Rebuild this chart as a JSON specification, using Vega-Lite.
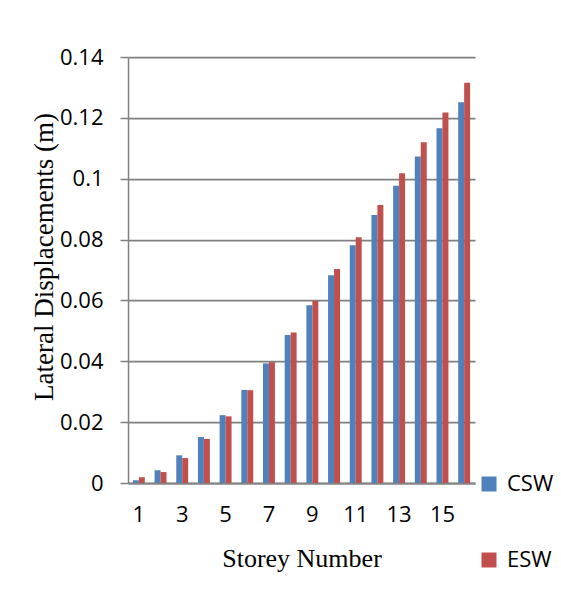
{
  "$schema": "https://vega.github.io/schema/vega-lite/v6.json",
  "width": 347,
  "height": 426,
  "autosize": {"type": "none"},
  "padding": {"left": 128, "top": 57, "right": 86, "bottom": 115},
  "background": "white",
  "config": {"view": {"stroke": null}, "font": "Open Sans"},
  "data": {
    "values": [
      {"storey": 1, "series": "CSW", "value": 0.0009}, {"storey": 1, "series": "ESW", "value": 0.0019},
      {"storey": 2, "series": "CSW", "value": 0.0042}, {"storey": 2, "series": "ESW", "value": 0.0036},
      {"storey": 3, "series": "CSW", "value": 0.0091}, {"storey": 3, "series": "ESW", "value": 0.0082},
      {"storey": 4, "series": "CSW", "value": 0.0151}, {"storey": 4, "series": "ESW", "value": 0.0145},
      {"storey": 5, "series": "CSW", "value": 0.0223}, {"storey": 5, "series": "ESW", "value": 0.0219},
      {"storey": 6, "series": "CSW", "value": 0.0306}, {"storey": 6, "series": "ESW", "value": 0.0305},
      {"storey": 7, "series": "CSW", "value": 0.0393}, {"storey": 7, "series": "ESW", "value": 0.0397},
      {"storey": 8, "series": "CSW", "value": 0.0486}, {"storey": 8, "series": "ESW", "value": 0.0495},
      {"storey": 9, "series": "CSW", "value": 0.0584}, {"storey": 9, "series": "ESW", "value": 0.0598},
      {"storey": 10, "series": "CSW", "value": 0.0683}, {"storey": 10, "series": "ESW", "value": 0.0703},
      {"storey": 11, "series": "CSW", "value": 0.0781}, {"storey": 11, "series": "ESW", "value": 0.0808},
      {"storey": 12, "series": "CSW", "value": 0.0881}, {"storey": 12, "series": "ESW", "value": 0.0914},
      {"storey": 13, "series": "CSW", "value": 0.0977}, {"storey": 13, "series": "ESW", "value": 0.1018},
      {"storey": 14, "series": "CSW", "value": 0.1073}, {"storey": 14, "series": "ESW", "value": 0.1120},
      {"storey": 15, "series": "CSW", "value": 0.1166}, {"storey": 15, "series": "ESW", "value": 0.1218},
      {"storey": 16, "series": "CSW", "value": 0.1251}, {"storey": 16, "series": "ESW", "value": 0.1315}
    ]
  },
  "mark": {"type": "bar"},
  "encoding": {
    "x": {
      "field": "storey",
      "type": "ordinal",
      "scale": {"paddingInner": 0.45, "paddingOuter": 0.225},
      "axis": {
        "title": "Storey Number",
        "titleFont": "Liberation Serif",
        "titleFontSize": 26,
        "titleFontWeight": "normal",
        "titleColor": "black",
        "titleY": 83,
        "titleBaseline": "alphabetic",
        "values": [1, 3, 5, 7, 9, 11, 13, 15],
        "labelAngle": 0,
        "labelFontSize": 22,
        "labelColor": "black",
        "ticks": false,
        "labelBaseline": "alphabetic",
        "labelPadding": 38,
        "domainColor": "#868686",
        "domainWidth": 2
      }
    },
    "xOffset": {"field": "series", "type": "nominal", "sort": ["CSW", "ESW"]},
    "y": {
      "field": "value",
      "type": "quantitative",
      "scale": {"domain": [0, 0.14], "nice": false},
      "axis": {
        "title": "Lateral Displacements (m)",
        "titleFont": "Liberation Serif",
        "titleFontSize": 27,
        "titleFontWeight": "normal",
        "titleColor": "black",
        "titleAngle": 270,
        "titleBaseline": "alphabetic",
        "titleAlign": "center",
        "titleX": -76,
        "titleY": 199.5,
        "values": [0, 0.02, 0.04, 0.06, 0.08, 0.1, 0.12, 0.14],
        "format": ".2~f",
        "labelFontSize": 22,
        "labelColor": "black",
        "labelPadding": 17,
        "tickSize": 8,
        "tickColor": "#808080",
        "tickWidth": 1.5,
        "domainColor": "#808080",
        "domainWidth": 1.5,
        "grid": true,
        "gridColor": "#808080",
        "gridWidth": 1.75
      }
    },
    "color": {
      "field": "series",
      "type": "nominal",
      "scale": {"domain": ["CSW", "ESW"], "range": ["#4F81BD", "#C0504D"]},
      "legend": {
        "orient": "none",
        "legendX": 350,
        "legendY": 416,
        "title": null,
        "direction": "vertical",
        "symbolType": "square",
        "symbolSize": 225,
        "symbolStrokeWidth": 0,
        "labelFontSize": 22,
        "labelColor": "black",
        "labelOffset": 7,
        "rowPadding": 54,
        "padding": 0
      }
    }
  }
}
